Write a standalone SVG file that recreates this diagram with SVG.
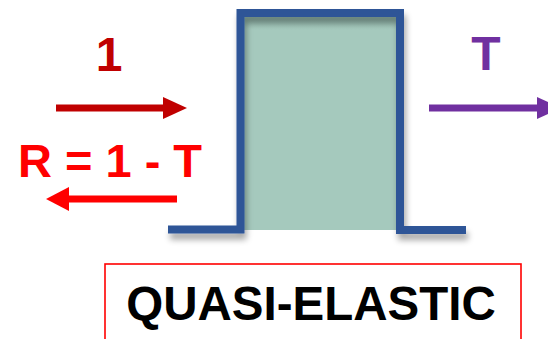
<svg xmlns="http://www.w3.org/2000/svg" width="548" height="339" viewBox="0 0 548 339">
  <style>
    .lbl { font-family: "Liberation Sans", Arial, sans-serif; font-weight: bold; }
    .arrow { stroke-width: 7; fill: none; }
  </style>
  <defs>
    <filter id="sh" x="-20%" y="-20%" width="140%" height="140%">
      <feGaussianBlur in="SourceAlpha" stdDeviation="3"/>
      <feOffset dx="2" dy="6" result="b"/>
      <feComponentTransfer><feFuncA type="linear" slope="0.35"/></feComponentTransfer>
      <feMerge><feMergeNode/><feMergeNode in="SourceGraphic"/></feMerge>
    </filter>
    <linearGradient id="fillg" x1="0" y1="0" x2="0" y2="1">
      <stop offset="0" stop-color="#93B8AC"/>
      <stop offset="0.06" stop-color="#A5C9BD"/>
      <stop offset="1" stop-color="#A5C9BD"/>
    </linearGradient>
  </defs>
  <rect width="548" height="339" fill="#FFFFFF"/>

  <g id="barrier">
    <rect x="244" y="17" width="153" height="213" fill="url(#fillg)"/>
    <path d="M168,229.5 H240.5 V13 H400 V230 H466" fill="none" stroke="#2F5597" stroke-width="8" filter="url(#sh)"/>
  </g>

  <g id="connectors">
    <g id="incident">
      <line class="arrow" x1="56" y1="108" x2="166" y2="108" stroke="#C00000"/>
      <polygon points="163,97 187,108 163,119" fill="#C00000"/>
    </g>
    <g id="reflected">
      <line class="arrow" x1="177" y1="199" x2="66" y2="199" stroke="#FF0000"/>
      <polygon points="69,187 46,199 69,211" fill="#FF0000"/>
    </g>
    <g id="transmitted">
      <line class="arrow" x1="429" y1="108" x2="540" y2="108" stroke="#7030A0"/>
      <polygon points="537,97 561,108 537,119" fill="#7030A0"/>
    </g>
  </g>

  <g id="label-1"><text class="lbl" x="109" y="71" font-size="48" fill="#C00000" text-anchor="middle">1</text></g>
  <g id="label-R"><text class="lbl" x="110" y="177" font-size="47" fill="#FF0000" text-anchor="middle">R = 1 - T</text></g>
  <g id="label-T"><text class="lbl" x="486" y="70" font-size="48" fill="#7030A0" text-anchor="middle">T</text></g>

  <g id="title">
    <rect x="105" y="264" width="416" height="100" fill="#FFFFFF" stroke="#FF0000" stroke-width="1.6"/>
    <text class="lbl" x="311" y="320" font-size="47.5" fill="#000000" text-anchor="middle">QUASI-ELASTIC</text>
  </g>
</svg>
